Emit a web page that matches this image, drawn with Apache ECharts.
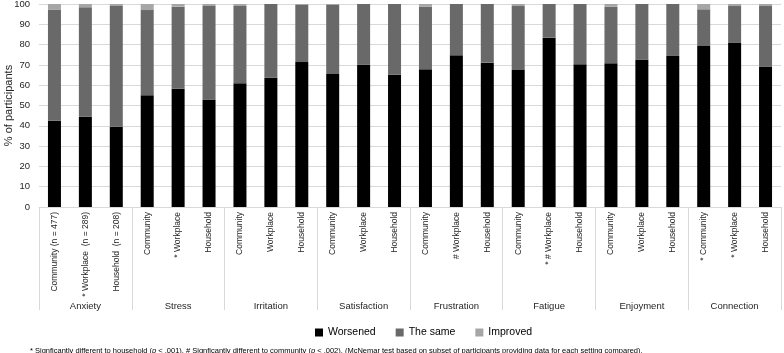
<!DOCTYPE html>
<html>
<head>
<meta charset="utf-8">
<script src="https://cdn.jsdelivr.net/npm/echarts@6/dist/echarts.min.js"></script>
<style>
  html, body { margin: 0; padding: 0; background: #fff; }
  #chart { width: 784px; height: 353px; }
</style>
</head>
<body>
<div id="chart"></div>
<script>
const groups = ["Anxiety", "Stress", "Irritation", "Satisfaction", "Frustration", "Fatigue", "Enjoyment", "Connection"];
const settings = [
  "Community (n = 477)", "* Workplace  (n = 289)", "Household  (n = 208)",
  "Community", "* Workplace", "Household",
  "Community", "Workplace", "Household",
  "Community", "Workplace", "Household",
  "Community", "# Workplace", "Household",
  "Community", "* # Workplace", "Household",
  "Community", "Workplace", "Household",
  "* Community", "* Workplace", "Household"
];
const worsened = [
  42.5, 44.5, 39.5,
  55, 58.3, 53,
  61, 63.7, 71.4,
  65.5, 70, 65.2,
  67.8, 74.7, 71.1,
  67.5, 83.4, 70.3,
  70.8, 72.7, 74.4,
  79.3, 81, 69
];
const theSame = [
  54.8, 53.9, 59.5,
  42, 40.4, 46,
  38, 36.3, 28.1,
  34, 30, 34.8,
  30.9, 25.3, 28.9,
  31.5, 16.6, 29.7,
  27.9, 27.3, 25.6,
  18.1, 18, 30
];
const improved = [
  2.7, 1.6, 1,
  3, 1.3, 1,
  1, 0, 0.5,
  0.5, 0, 0,
  1.3, 0, 0,
  1, 0, 0,
  1.3, 0, 0,
  2.6, 1, 1
];
const yTicks = { min: 0, max: 100, interval: 10 };
const footnote = "* Signficantly different to household ({i|p} < .001). # Signficantly different to community ({i|p} < .002). (McNemar test based on subset of participants providing data for each setting compared).";

const chart = echarts.init(document.getElementById("chart"));
const lineColor = "#d9d9d9";
const textColor = "#262626";
const font = "Liberation Sans";

const bar = (name, data, color) => ({
  name,
  type: "bar",
  stack: "total",
  data,
  barWidth: 13,
  itemStyle: { color },
});

chart.setOption({
  animation: false,
  textStyle: { fontFamily: font },
  grid: { left: 39, right: 3, top: 4, bottom: 146, outerBoundsMode: "none" },
  legend: {
    left: 310,
    top: 322,
    itemWidth: 8,
    itemHeight: 8,
    itemGap: 20,
    icon: "rect",
    textStyle: { fontSize: 10.5, color: "#000", fontFamily: font },
    data: ["Worsened", "The same", "Improved"],
  },
  title: {
    text: footnote,
    left: 25,
    top: 342,
    textStyle: {
      fontSize: 7.5,
      fontWeight: "normal",
      color: "#000",
      fontFamily: font,
      rich: { i: { fontStyle: "italic", fontSize: 7.5, fontFamily: font, color: "#000" } },
    },
  },
  xAxis: [
    {
      type: "category",
      data: settings,
      axisLine: { show: true, lineStyle: { color: lineColor } },
      axisTick: {
        show: true,
        length: 103,
        interval: (idx) => idx % 3 === 0,
        lineStyle: { color: lineColor },
      },
      axisLabel: {
        rotate: 90,
        interval: 0,
        margin: 5,
        fontSize: 8.5,
        color: textColor,
        fontFamily: font,
      },
    },
    {
      type: "category",
      data: groups,
      position: "bottom",
      offset: 94,
      axisLine: { show: false },
      axisTick: { show: false },
      axisLabel: { fontSize: 9.5, color: textColor, fontFamily: font, margin: 0 },
    },
  ],
  yAxis: {
    type: "value",
    min: yTicks.min,
    max: yTicks.max,
    interval: yTicks.interval,
    name: "% of participants",
    nameLocation: "middle",
    nameGap: 25,
    nameMoveOverlap: false,
    nameTextStyle: { fontSize: 11, color: textColor, fontFamily: font },
    axisLine: { show: false },
    axisTick: { show: false },
    axisLabel: { fontSize: 9.5, color: textColor, margin: 9, fontFamily: font },
    splitLine: { lineStyle: { color: lineColor } },
  },
  series: [
    bar("Worsened", worsened, "#000000"),
    bar("The same", theSame, "#696969"),
    bar("Improved", improved, "#a6a6a6"),
  ],
});
</script>
</body>
</html>
